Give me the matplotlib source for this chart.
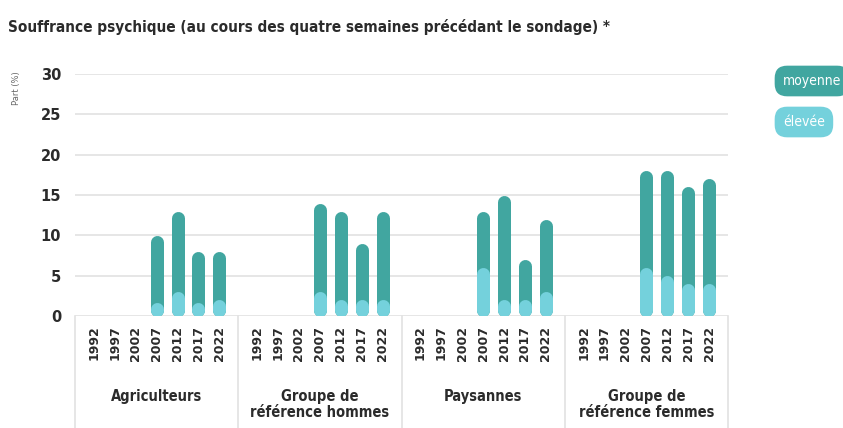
import matplotlib.pyplot as plt
from matplotlib.transforms import blended_transform_factory

groups = ["Agriculteurs", "Groupe de\nréférence hommes", "Paysannes", "Groupe de\nréférence femmes"]
years = ["1992", "1997", "2002", "2007", "2012", "2017", "2022"]

# total share (moyenne + élevée) and élevée part, per group, for 2007..2022
totals = [
    [10, 13, 8, 8],
    [14, 13, 9, 13],
    [13, 15, 7, 12],
    [18, 18, 16, 17],
]
elevee = [
    [1, 3, 0.5, 2],
    [3, 2, 2, 2],
    [6, 2, 2, 3],
    [6, 5, 4, 4],
]
first_year_with_data = 3

DARK = "#41a6a0"
LIGHT = "#74d1dc"
GRID = "#e2e2e2"
TEXT = "#2b2b2b"

W, H = 843, 428
fig = plt.figure(figsize=(W / 100, H / 100), dpi=100)
ax = fig.add_axes([75 / W, 1 - 316 / H, 653 / W, (316 - 74) / H])

group_width = len(years) + 0.8
ax.set_xlim(0, group_width * len(groups))
ax.set_ylim(0, 30)

bar_px = 13
px_per_unit = (316 - 74) / 30
radius = bar_px / 2 / px_per_unit
lw = bar_px * 72 / 100


def capsule(x, y0, y1, color):
    top = max(y1 - radius, y0 + radius + 0.01)
    ax.plot([x, x], [y0 + radius, top], color=color,
            linewidth=lw, solid_capstyle="round", zorder=3)


tick_pos = []
tick_lab = []
for g, name in enumerate(groups):
    for i, yr in enumerate(years):
        tick_pos.append(g * group_width + 0.4 + i + 0.5)
        tick_lab.append(yr)
    for j in range(len(totals[g])):
        x = g * group_width + 0.4 + first_year_with_data + j + 0.5
        capsule(x, 0, totals[g][j], DARK)
        capsule(x, 0, elevee[g][j], LIGHT)

ax.set_xticks(tick_pos)
ax.set_xticklabels(tick_lab, rotation=90, fontsize=9, fontweight="bold",
                   color=TEXT, family="DejaVu Sans")
ax.tick_params(axis="x", length=0, pad=7)
ax.set_yticks(range(0, 31, 5))
ax.tick_params(axis="y", length=0, pad=10, labelsize=10.5, labelcolor=TEXT)
for lab in ax.get_yticklabels():
    lab.set_fontweight("bold")
ax.grid(axis="y", color=GRID, linewidth=1.2)
ax.set_axisbelow(True)
for s in ax.spines.values():
    s.set_visible(False)

trans = blended_transform_factory(ax.transData, ax.transAxes)
for g in range(len(groups) + 1):
    ax.plot([g * group_width] * 2, [0, -0.47], transform=trans, color=GRID,
            linewidth=1.2, clip_on=False)
for g, name in enumerate(groups):
    ax.text((g + 0.5) * group_width, -0.3, name, transform=trans, ha="center",
            va="top", fontsize=10.5, fontweight="bold", color=TEXT,
            stretch="condensed", linespacing=1.1)

fig.text(17 / W, 1 - 88 / H, "Part (%)", rotation=90, ha="center", va="center",
         fontsize=6, color="#666666")
fig.text(8 / W, 1 - 27 / H, "Souffrance psychique (au cours des quatre semaines précédant le sondage) *",
         ha="left", va="center", fontsize=11, fontweight="bold", color=TEXT,
         stretch="condensed")

fig.text(783 / W, 1 - 81 / H, "moyenne", ha="left", va="center", fontsize=10,
         color="white", stretch="condensed",
         bbox=dict(boxstyle="round,pad=0.6,rounding_size=0.9", fc=DARK, ec="none"))
fig.text(783 / W, 1 - 122 / H, "élevée", ha="left", va="center", fontsize=10,
         color="white", stretch="condensed",
         bbox=dict(boxstyle="round,pad=0.6,rounding_size=0.9", fc=LIGHT, ec="none"))

fig.savefig("out.png", dpi=100)
